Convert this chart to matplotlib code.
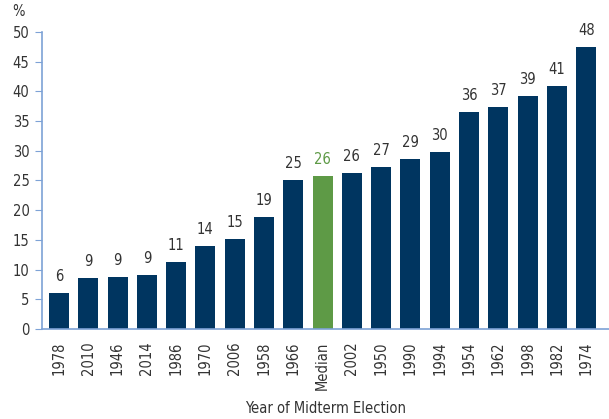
import matplotlib.pyplot as plt

plt.rcParams['font.family'] = ['DejaVu Sans']
plt.rcParams['font.stretch'] = 'condensed'

# Data
years = ['1978', '2010', '1946', '2014', '1986', '1970', '2006', '1958', '1966', 'Median',
         '2002', '1950', '1990', '1994', '1954', '1962', '1998', '1982', '1974']
values = [6.1, 8.6, 8.8, 9.1, 11.3, 14.0, 15.2, 18.9, 25.1, 25.8,
          26.3, 27.3, 28.6, 29.8, 36.5, 37.4, 39.2, 40.9, 47.5]
labels = [6, 9, 9, 9, 11, 14, 15, 19, 25, 26, 26, 27, 29, 30, 36, 37, 39, 41, 48]

navy = '#003560'
green = '#5e9a46'
axis_col = '#7da2d6'
text_col = '#333333'

fig = plt.figure(figsize=(6.09, 4.19), dpi=100)
ax = fig.add_axes([42 / 609, 1 - 329 / 419, 1 - 42 / 609, (329 - 32) / 419])

colors = [green if y == 'Median' else navy for y in years]
x = range(len(years))
ax.bar(x, values, width=0.68, color=colors)

for i, (v, lab) in enumerate(zip(values, labels)):
    ax.text(i, v + 1.5, str(lab), ha='center', va='bottom', fontsize=10.5,
            color=green if years[i] == 'Median' else text_col)

ax.set_xlim(-0.58, 18.78)
ax.set_ylim(0, 50)
ax.set_yticks(range(0, 51, 5))
ax.set_xticks(list(x))
ax.set_xticklabels(years, rotation=90, fontsize=10.5, color=text_col)
ax.tick_params(axis='x', length=0, pad=9)
ax.tick_params(axis='y', length=5, color=axis_col, labelsize=10.5, labelcolor=text_col, pad=4)

for s in ['top', 'right']:
    ax.spines[s].set_visible(False)
for s in ['left', 'bottom']:
    ax.spines[s].set_color(axis_col)
    ax.spines[s].set_linewidth(1.2)

ax.set_xlabel('Year of Midterm Election', fontsize=10.5, color=text_col, labelpad=8)
fig.text(12 / 609, 1 - 11 / 419, '%', fontsize=10.5, color=text_col, ha='left', va='center')

fig.savefig('out.png', dpi=100)
